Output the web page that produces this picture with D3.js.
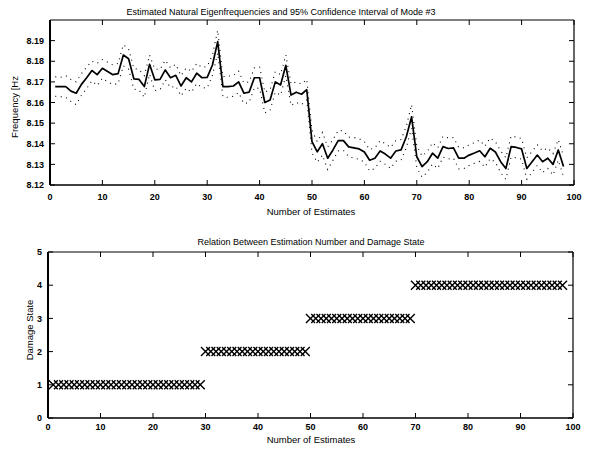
<!DOCTYPE html>
<html><head><meta charset="utf-8">
<script src="https://cdn.jsdelivr.net/npm/d3@7"></script>
<style>
html,body{margin:0;padding:0;background:#fff;}
svg{display:block;}
text{font-family:"Liberation Sans",Arial,Helvetica,sans-serif;fill:#000;}
</style></head>
<body>
<svg id="chart" width="593" height="450"></svg>
<script>
// ---- data ----
const freqMean = [
 8.1677,8.1677,8.1677,8.1655,8.1645,8.1688,8.1720,8.1755,8.1735,8.1766,
 8.1750,8.1735,8.1740,8.1830,8.1812,8.1715,8.1712,8.1677,8.1785,8.1710,
 8.1712,8.1758,8.1720,8.1732,8.1680,8.1720,8.1700,8.1742,8.1720,8.1722,
 8.1782,8.1895,8.1677,8.1677,8.1680,8.1700,8.1645,8.1650,8.1720,8.1720,
 8.1600,8.1612,8.1700,8.1685,8.1780,8.1636,8.1650,8.1640,8.1662,8.1410,
 8.1361,8.1400,8.1330,8.1370,8.1415,8.1415,8.1385,8.1380,8.1375,8.1360,
 8.1320,8.1330,8.1365,8.1350,8.1330,8.1365,8.1370,8.1434,8.1530,8.1337,
 8.1289,8.1313,8.1354,8.1330,8.1386,8.1377,8.1380,8.1330,8.1330,8.1345,
 8.1355,8.1366,8.1337,8.1378,8.1360,8.1313,8.1280,8.1386,8.1382,8.1375,
 8.1280,8.1313,8.1345,8.1313,8.1330,8.1300,8.1370,8.1290];
const freqUpper = [
 8.1725,8.1722,8.1730,8.1712,8.1700,8.1740,8.1772,8.1800,8.1790,8.1808,
 8.1795,8.1782,8.1790,8.1880,8.1860,8.1765,8.1760,8.1730,8.1830,8.1762,
 8.1760,8.1805,8.1768,8.1785,8.1730,8.1768,8.1750,8.1790,8.1770,8.1775,
 8.1830,8.1950,8.1725,8.1728,8.1730,8.1752,8.1695,8.1700,8.1768,8.1772,
 8.1650,8.1662,8.1750,8.1735,8.1830,8.1690,8.1700,8.1690,8.1712,8.1465,
 8.1410,8.1455,8.1385,8.1420,8.1465,8.1462,8.1432,8.1430,8.1425,8.1410,
 8.1372,8.1380,8.1415,8.1400,8.1382,8.1415,8.1420,8.1485,8.1590,8.1390,
 8.1340,8.1362,8.1405,8.1380,8.1436,8.1428,8.1430,8.1382,8.1380,8.1395,
 8.1405,8.1418,8.1388,8.1428,8.1410,8.1365,8.1332,8.1438,8.1432,8.1425,
 8.1332,8.1362,8.1395,8.1365,8.1380,8.1352,8.1420,8.1340];
const freqLower = [
 8.1630,8.1628,8.1625,8.1605,8.1590,8.1635,8.1668,8.1705,8.1682,8.1718,
 8.1700,8.1688,8.1690,8.1778,8.1762,8.1665,8.1660,8.1625,8.1738,8.1658,
 8.1662,8.1710,8.1672,8.1680,8.1632,8.1670,8.1650,8.1692,8.1672,8.1670,
 8.1732,8.1840,8.1628,8.1625,8.1630,8.1648,8.1595,8.1600,8.1672,8.1668,
 8.1550,8.1562,8.1650,8.1635,8.1730,8.1585,8.1600,8.1590,8.1612,8.1355,
 8.1310,8.1345,8.1275,8.1320,8.1365,8.1368,8.1338,8.1330,8.1325,8.1310,
 8.1268,8.1280,8.1315,8.1300,8.1280,8.1315,8.1320,8.1382,8.1475,8.1285,
 8.1238,8.1262,8.1302,8.1280,8.1335,8.1326,8.1330,8.1278,8.1280,8.1295,
 8.1305,8.1314,8.1286,8.1328,8.1310,8.1260,8.1228,8.1335,8.1332,8.1325,
 8.1228,8.1262,8.1295,8.1260,8.1280,8.1248,8.1320,8.1240];
const damageState = [
 1,1,1,1,1,1,1,1,1,1, 1,1,1,1,1,1,1,1,1,1, 1,1,1,1,1,1,1,1,1,
 2,2,2,2,2,2,2,2,2,2, 2,2,2,2,2,2,2,2,2,2,
 3,3,3,3,3,3,3,3,3,3, 3,3,3,3,3,3,3,3,3,3,
 4,4,4,4,4,4,4,4,4,4, 4,4,4,4,4,4,4,4,4,4, 4,4,4,4,4,4,4,4,4];
const xTicks = [0,10,20,30,40,50,60,70,80,90,100];
const freqTicks = [8.12,8.13,8.14,8.15,8.16,8.17,8.18,8.19];
const freqTickLabels = ["8.12","8.13","8.14","8.15","8.16","8.17","8.18","8.19"];
const stateTicks = [0,1,2,3,4,5];
const title1 = "Estimated Natural Eigenfrequencies and 95% Confidence Interval of Mode #3";
const title2 = "Relation Between Estimation Number and Damage State";
const xLabel = "Number of Estimates";
const yLabel1 = "Frequency [Hz";
const yLabel2 = "Damage State";

// ---- drawing ----
const svg = d3.select("#chart");
svg.append("rect").attr("width",593).attr("height",450).attr("fill","#fff");

function frame(g, x, y, xt, yt, ytl, fs, xoff) {
  const [x0,x1] = x.range(), [y0,y1] = y.range(); // y0 bottom, y1 top
  const tl = 5;
  g.selectAll(".xtb").data(xt).join("line").attr("class","xtb")
    .attr("x1",d=>x(d)).attr("x2",d=>x(d)).attr("y1",y0).attr("y2",y0-tl)
    .attr("stroke","#000").attr("stroke-width",1);
  g.selectAll(".xtt").data(xt).join("line").attr("class","xtt")
    .attr("x1",d=>x(d)).attr("x2",d=>x(d)).attr("y1",y1).attr("y2",y1+tl)
    .attr("stroke","#000").attr("stroke-width",1);
  g.selectAll(".ytl").data(yt).join("line").attr("class","ytl")
    .attr("x1",x0).attr("x2",x0+tl).attr("y1",d=>y(d)).attr("y2",d=>y(d))
    .attr("stroke","#000").attr("stroke-width",1);
  g.selectAll(".ytr").data(yt).join("line").attr("class","ytr")
    .attr("x1",x1).attr("x2",x1-tl).attr("y1",d=>y(d)).attr("y2",d=>y(d))
    .attr("stroke","#000").attr("stroke-width",1);
  g.append("line").attr("x1",x0).attr("x2",x1).attr("y1",y1).attr("y2",y1).attr("stroke","#000").attr("stroke-width",1.2);
  g.append("line").attr("x1",x1).attr("x2",x1).attr("y1",y1).attr("y2",y0).attr("stroke","#000").attr("stroke-width",1.2);
  g.append("line").attr("x1",x0).attr("x2",x1).attr("y1",y0).attr("y2",y0).attr("stroke","#000").attr("stroke-width",1.6);
  g.append("line").attr("x1",x0).attr("x2",x0).attr("y1",y1).attr("y2",y0).attr("stroke","#000").attr("stroke-width",2);
  g.selectAll(".xl").data(xt).join("text").attr("class","xl")
    .attr("x",d=>x(d)).attr("y",y0+xoff).attr("text-anchor","middle")
    .attr("font-size",fs).attr("font-weight","bold").text(d=>d);
  g.selectAll(".yl").data(yt).join("text").attr("class","yl")
    .attr("x",x0-6).attr("y",d=>y(d)+3.2).attr("text-anchor","end")
    .attr("font-size",fs).attr("font-weight","bold").text((d,i)=>ytl[i]);
}

// top plot
const xA = d3.scaleLinear().domain([0,100]).range([50,574]);
const yA = d3.scaleLinear().domain([8.12,8.20]).range([185,20]);
const gA = svg.append("g");
const lineA = d3.line().x((d,i)=>xA(i+1)).y(d=>yA(d));
gA.append("path").datum(freqUpper).attr("d",lineA).attr("fill","none")
  .attr("stroke","#000").attr("stroke-width",1.1).attr("stroke-dasharray","1 4.5");
gA.append("path").datum(freqLower).attr("d",lineA).attr("fill","none")
  .attr("stroke","#000").attr("stroke-width",1.1).attr("stroke-dasharray","1 4.5");
gA.append("path").datum(freqMean).attr("d",lineA).attr("fill","none")
  .attr("stroke","#000").attr("stroke-width",1.7).attr("stroke-linejoin","round");
frame(gA, xA, yA, xTicks, freqTicks, freqTickLabels, 9, 15);
svg.append("text").attr("x",281).attr("y",15).attr("text-anchor","middle")
  .attr("font-size",9).text(title1);
svg.append("text").attr("x",311).attr("y",215).attr("text-anchor","middle")
  .attr("font-size",9.5).text(xLabel);
svg.append("text").attr("transform","translate(18,107) rotate(-90)").attr("text-anchor","middle")
  .attr("font-size",9.5).text(yLabel1);

// bottom plot
const xB = d3.scaleLinear().domain([0,100]).range([48,573]);
const yB = d3.scaleLinear().domain([0,5]).range([418,252]);
const gB = svg.append("g");
const sym = d3.symbol().type(d3.symbolTimes).size(55);
gB.selectAll(".mk").data(damageState).join("path").attr("class","mk")
  .attr("transform",(d,i)=>`translate(${xB(i+1)},${yB(d)})`)
  .attr("d",sym).attr("fill","none").attr("stroke","#000").attr("stroke-width",1.4);
frame(gB, xB, yB, xTicks, stateTicks, stateTicks.map(String), 9, 11.5);
svg.append("text").attr("x",311).attr("y",245).attr("text-anchor","middle")
  .attr("font-size",9).text(title2);
svg.append("text").attr("x",311).attr("y",443).attr("text-anchor","middle")
  .attr("font-size",9.5).text(xLabel);
svg.append("text").attr("transform","translate(33,330) rotate(-90)").attr("text-anchor","middle")
  .attr("font-size",9.5).text(yLabel2);
</script>
</body></html>
